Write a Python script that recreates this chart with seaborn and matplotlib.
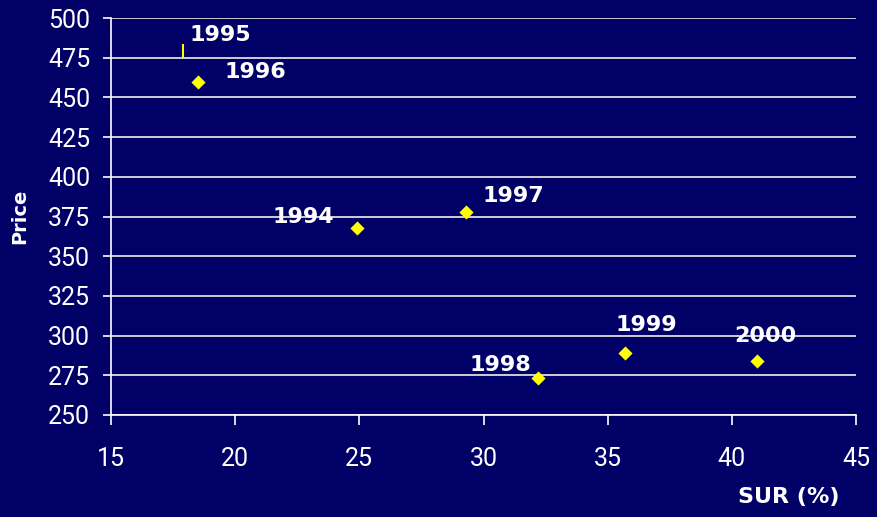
import matplotlib
matplotlib.use("Agg")
import matplotlib.pyplot as plt
import seaborn as sns
import pandas as pd
from matplotlib import font_manager

# ---- data ----
years = ["1994", "1995", "1996", "1997", "1998", "1999", "2000"]
sur = [24.9, 17.9, 18.5, 29.3, 32.2, 35.7, 41.0]
price = [368, 479, 460, 378, 273, 289, 284]
x_ticks = [15, 20, 25, 30, 35, 40, 45]
y_ticks = [250, 275, 300, 325, 350, 375, 400, 425, 450, 475, 500]

# ---- layout (label offsets in points) ----
label_offsets = {
    "1994": (-16.5, 8, "right"),
    "1995": (5, 12, "left"),
    "1996": (19.5, 7, "left"),
    "1997": (12, 11.5, "left"),
    "1998": (-5, 10, "right"),
    "1999": (-7, 20, "left"),
    "2000": (-16.5, 18, "left"),
}

BG = "#000066"
YEL = "#FFFF00"
WHITE = "white"

available = {f.name for f in font_manager.fontManager.ttflist}
narrow = "Liberation Sans Narrow" if "Liberation Sans Narrow" in available else "Roboto"

sns.set_theme(style="white")
plt.rcParams["font.family"] = ["Roboto", "DejaVu Sans"]

df = pd.DataFrame({"year": years, "sur": sur, "price": price})

fig = plt.figure(figsize=(8.77, 5.17), dpi=100, facecolor=BG)
ax = fig.add_axes([111 / 877, 1 - 415 / 517, (856 - 111) / 877, (415 - 18) / 517])
ax.set_facecolor(BG)

main = df[df["year"] != "1995"]
odd = df[df["year"] == "1995"]
sns.scatterplot(data=main, x="sur", y="price", marker="D", s=52, color=YEL,
                edgecolor=YEL, linewidth=0, ax=ax, zorder=3, clip_on=False)
sns.scatterplot(data=odd, x="sur", y="price", marker="|", s=90, color=YEL,
                linewidth=1.5, ax=ax, zorder=3, clip_on=False)

for yr, xv, yv in zip(years, sur, price):
    dx, dy, ha = label_offsets[yr]
    ax.annotate(yr, (xv, yv), xytext=(dx, dy), textcoords="offset points",
                ha=ha, va="center", color=WHITE, fontsize=16, fontweight="bold",
                family="DejaVu Sans", zorder=4)

ax.set_xlim(15, 45)
ax.set_ylim(250, 500)
ax.set_xticks(x_ticks)
ax.set_yticks(y_ticks)
ax.set_xticklabels([str(v) for v in x_ticks], family=narrow, fontsize=18, color=WHITE)
ax.set_yticklabels([str(v) for v in y_ticks], fontsize=18, color=WHITE)

ax.yaxis.grid(True, color="#DDDDDD", linewidth=1.3)
ax.xaxis.grid(False)
for s in ["top", "right"]:
    ax.spines[s].set_visible(False)
for s in ["left", "bottom"]:
    ax.spines[s].set_color(WHITE)
    ax.spines[s].set_linewidth(1.2)

ax.tick_params(axis="y", which="both", left=True, length=6, width=1.2, color=WHITE, pad=9)
ax.tick_params(axis="x", which="both", bottom=True, length=7, width=1.2, color=WHITE, pad=16)

ax.set_xlabel("")
ax.set_ylabel("")
fig.text(20 / 877, 1 - 216 / 517, "Price", rotation=90, ha="center", va="center",
         color=WHITE, fontsize=14, fontweight="bold", family="DejaVu Sans")
fig.text(840 / 877, 1 - 497 / 517, "SUR (%)", ha="right", va="center",
         color=WHITE, fontsize=16, fontweight="bold", family="DejaVu Sans")

fig.savefig("out.png", dpi=100, facecolor=BG)
